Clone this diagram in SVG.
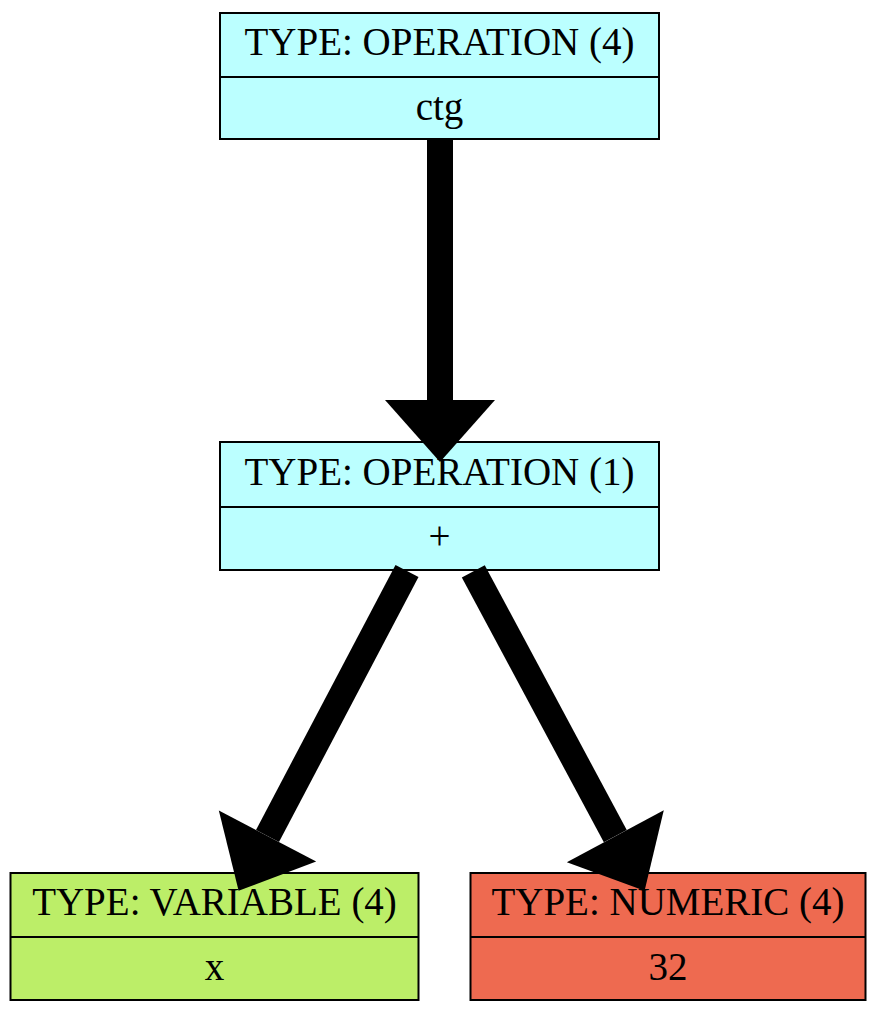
<svg xmlns="http://www.w3.org/2000/svg" width="876" height="1014" viewBox="0 0 876 1014">
  <style>
    .box { stroke: #000; stroke-width: 2; }
    .sep { stroke: #000; stroke-width: 2; }
    .op { fill: #bbffff; }
    .var { fill: #bcee68; }
    .num { fill: #ee6a50; }
    text { font-family: "Liberation Serif", "Times New Roman", serif; font-size: 39px; fill: #000; text-anchor: middle; }
    .edge { stroke: #000; stroke-width: 26; fill: none; }
  </style>
  <defs>
    <marker id="head" markerUnits="userSpaceOnUse" markerWidth="62" markerHeight="110" viewBox="0 0 62 110" refX="0" refY="55" orient="auto" overflow="visible">
      <path d="M0,0 L62,55 L0,110 Z" fill="#000"/>
    </marker>
  </defs>

  <g id="node-ctg">
    <rect class="box op" x="220" y="13" width="439" height="126"/>
    <line class="sep" x1="220" y1="77" x2="659" y2="77"/>
    <text x="439.5" y="55">TYPE: OPERATION (4)</text>
    <text x="439.5" y="120">ctg</text>
  </g>

  <g id="node-plus">
    <rect class="box op" x="220" y="442" width="439" height="128"/>
    <line class="sep" x1="220" y1="507" x2="659" y2="507"/>
    <text x="439.5" y="484.5">TYPE: OPERATION (1)</text>
    <text x="439.5" y="549">+</text>
  </g>

  <g id="node-x">
    <rect class="box var" x="10.5" y="873" width="408" height="127"/>
    <line class="sep" x1="10.5" y1="937" x2="418.5" y2="937"/>
    <text x="214.5" y="915">TYPE: VARIABLE (4)</text>
    <text x="214.5" y="979.5">x</text>
  </g>

  <g id="node-32">
    <rect class="box num" x="470.5" y="873" width="395" height="127"/>
    <line class="sep" x1="470.5" y1="937" x2="865.5" y2="937"/>
    <text x="668" y="915">TYPE: NUMERIC (4)</text>
    <text x="668" y="980">32</text>
  </g>

  <g id="edges">
    <line class="edge" x1="440" y1="139" x2="440" y2="400" marker-end="url(#head)"/>
    <line class="edge" x1="407" y1="571" x2="267.5" y2="836" marker-end="url(#head)"/>
    <line class="edge" x1="473.3" y1="571.3" x2="615.3" y2="836.2" marker-end="url(#head)"/>
  </g>
</svg>
